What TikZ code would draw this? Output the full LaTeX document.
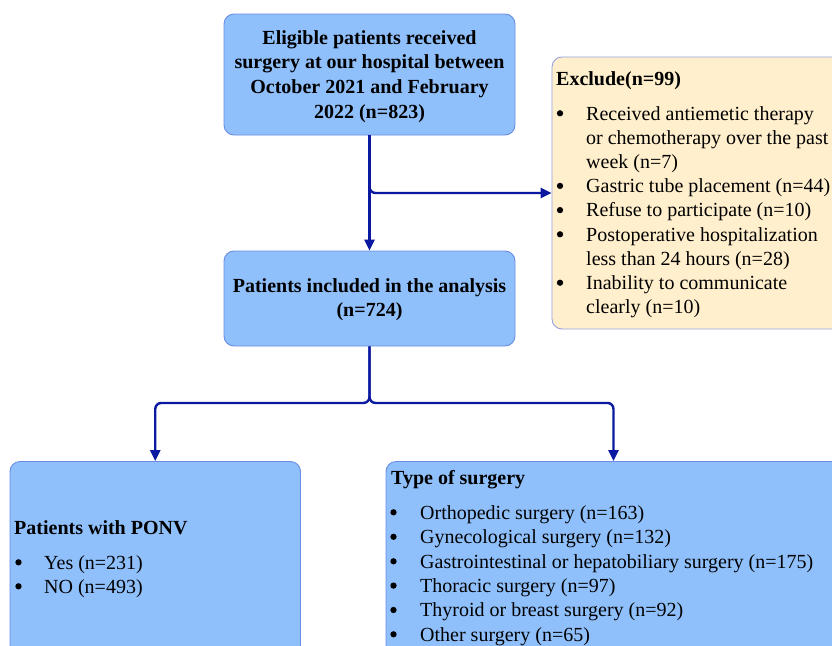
\documentclass[tikz,border=0pt]{standalone}
\usepackage{fontspec}
\newfontfamily\tnr{Liberation Serif}
\usetikzlibrary{arrows.meta}
\definecolor{boxblue}{RGB}{143,192,252}
\definecolor{boxedge}{RGB}{105,140,228}
\definecolor{exfill}{RGB}{255,239,204}
\definecolor{exedge}{RGB}{150,160,225}
\definecolor{arrowblue}{RGB}{10,25,160}
\newcommand\myfs{\tnr\fontsize{20}{24}\selectfont}
\begin{document}
\begin{tikzpicture}[x=1pt,y=-1pt,
 bluebox/.style={draw=boxedge, fill=boxblue, line width=0.9pt, rounded corners=10pt, inner sep=0},
 exbox/.style={draw=exedge, fill=exfill, line width=0.9pt, rounded corners=10pt, inner sep=0},
 conn/.style={draw=arrowblue, line width=2.4pt, rounded corners=6pt, -{Triangle[length=11pt,width=10pt]}},
 ctr/.style={inner sep=0, anchor=base, font=\myfs\bfseries},
 lft/.style={inner sep=0, anchor=base west, font=\myfs},
 hd/.style={inner sep=0, anchor=base west, font=\myfs\bfseries},
 dot/.style={circle, fill=black, inner sep=0, minimum size=6.3pt}]
\clip (0,0) rectangle (832,645);
\fill[white] (0,0) rectangle (832,645);
% boxes
\node[bluebox, minimum width=291pt, minimum height=121pt] (top) at (369.5,74.5) {};
\node[bluebox, minimum width=291pt, minimum height=95pt] (mid) at (369.5,298.5) {};
\node[exbox, minimum width=298pt, minimum height=272pt] (ex) at (701,193) {};
\node[bluebox, minimum width=290.5pt, minimum height=208.5pt] (pl) at (155.25,565.75) {};
\node[bluebox, minimum width=464pt, minimum height=208.5pt] (ts) at (618,565.75) {};
% connectors
\draw[conn] (top.south) -- (mid.north);
\draw[conn] (top.south) |- (ex.west);
\draw[conn] (mid.south) -- ++(0,56.5) -| (pl.north);
\draw[conn] (mid.south) -- ++(0,56.5) -| ([xshift=-4.5pt]ts.north);
% top text
\node[ctr] (t1) at (369.5,44.3) {Eligible patients received};
\node[ctr] (t2) at (369.5,68.9) {surgery at our hospital between};
\node[ctr] (t3) at (369.5,93.5) {October 2021 and February};
\node[ctr] (t4) at (369.5,118) {2022 (n=823)};
% mid text
\node[ctr] (m1) at (369.5,292) {Patients included in the analysis};
\node[ctr] (m2) at (369.5,316.5) {(n=724)};
% exclude
\node[hd] (e0) at (556,85) {Exclude(n=99)};
\foreach \y/\t [count=\i] in {120/Received antiemetic therapy,
  144.2/or chemotherapy over the past,
  168.4/week (n=7),
  192.6/Gastric tube placement (n=44),
  216.8/Refuse to participate (n=10),
  241/Postoperative hospitalization,
  265.2/less than 24 hours (n=28),
  289.4/Inability to communicate,
  313.6/clearly (n=10)}
  \node[lft] (e\i) at (586,\y) {\t};
\foreach \y [count=\i] in {120,192.6,216.8,241,289.4}
  \node[dot] (eb\i) at (560,\y-6.7) {};
% PONV
\node[hd] (p0) at (14,534) {Patients with PONV};
\node[dot] (pb1) at (18.5,569-6.7) {};
\node[dot] (pb2) at (18.5,593-6.7) {};
\node[lft] (p1) at (44,569) {Yes (n=231)};
\node[lft] (p2) at (44,593) {NO (n=493)};
% type of surgery
\node[hd] (s0) at (391,484) {Type of surgery};
\foreach \y/\t [count=\i] in {519/Orthopedic surgery (n=163),
  543.5/Gynecological surgery (n=132),
  568/Gastrointestinal or hepatobiliary surgery (n=175),
  592.3/Thoracic surgery (n=97),
  616.7/Thyroid or breast surgery (n=92),
  641/Other surgery (n=65)}
  {\node[lft] (s\i) at (420,\y) {\t};
   \node[dot] (sb\i) at (393.5,\y-6.7) {};}
\end{tikzpicture}
\end{document}
